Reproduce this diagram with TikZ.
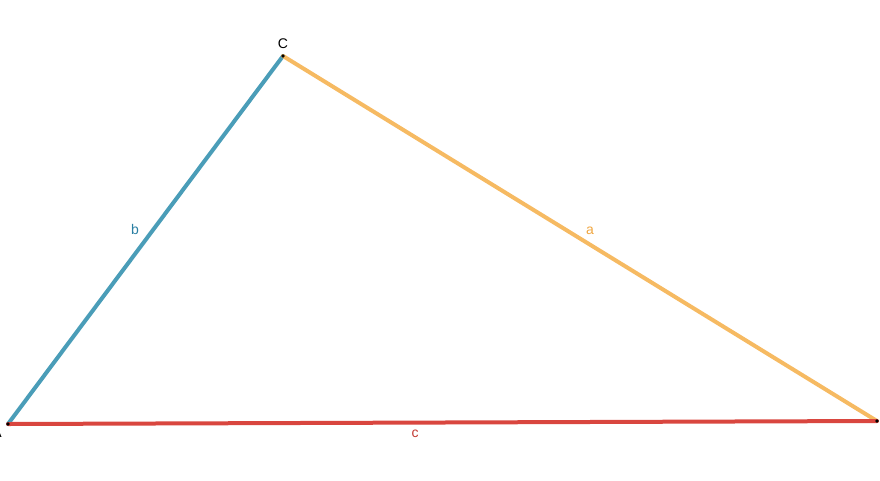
\documentclass[tikz,border=0pt]{standalone}
\usepackage{fontspec}
\setmainfont{Liberation Sans}
\definecolor{sideb}{HTML}{4A9DB8}
\definecolor{sidea}{HTML}{F6BA62}
\definecolor{sidec}{HTML}{D9463F}
\definecolor{textb}{HTML}{2A7FA3}
\definecolor{texta}{HTML}{F0A640}
\definecolor{textc}{HTML}{C23A33}
\tikzset{side/.style={line width=4pt,line cap=round},
  lbl/.style={font=\fontsize{14}{16}\selectfont,inner sep=1pt}}
\begin{document}
\begin{tikzpicture}[x=1pt,y=-1pt]
\useasboundingbox (0,0) rectangle (880,480);
\coordinate (A) at (8,424);
\coordinate (B) at (877,421);
\coordinate (C) at (283,56);
\draw[side,sideb] (A) -- (C);
\draw[side,sidea] (C) -- (B);
\draw[side,sidec] (A) -- (B);
\foreach \v in {A,B,C}
\fill (\v) circle (1.8pt);
\node[lbl] (labA) at (-3,433) {A};
\node[lbl] (labC) at (283,44) {C};
\node[lbl,textb] (labb) at (135,229) {b};
\node[lbl,texta] (laba) at (590,231) {a};
\node[lbl,textc] (labc) at (415,434) {c};
\end{tikzpicture}
\end{document}
